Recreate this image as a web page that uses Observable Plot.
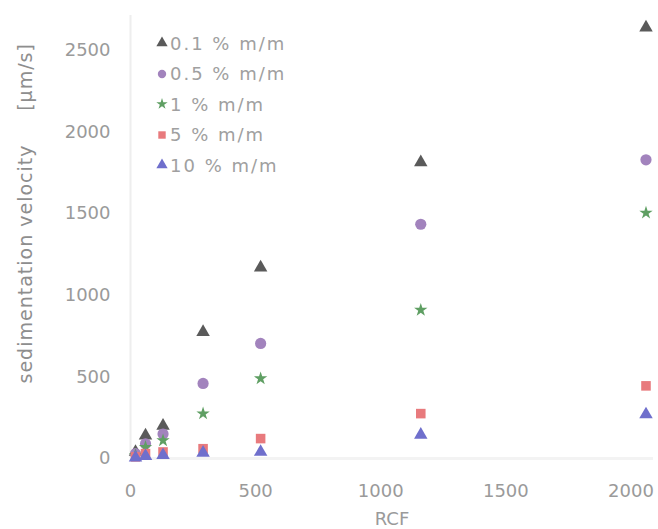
<!DOCTYPE html>
<html>
<head>
<meta charset="utf-8">
<script src="https://cdn.jsdelivr.net/npm/d3@7"></script>
<script src="https://cdn.jsdelivr.net/npm/@observablehq/plot@0.6"></script>
<style>
  body { margin: 0; background: #fff; }
  #wrap { position: relative; width: 658px; height: 529px; font-family: "DejaVu Sans", sans-serif; }
  #ylab { position: absolute; left: 25px; top: 0; width: 0; height: 0; }
  #ylab span { position: absolute; white-space: nowrap; transform: translate(-50%, -50%) rotate(-90deg); font-size: 19px; letter-spacing: 1px; color: #8e8e8e; }
  #legend { position: absolute; left: 155px; top: 28px; }
  .li { height: 30.5px; display: flex; align-items: center; font-size: 18px; letter-spacing: 2px; color: #a0a0a0; white-space: nowrap; }
  .li svg { margin-right: 1px; }
</style>
</head>
<body>
<div id="wrap">
  <div id="chart"></div>
  <div id="ylab"><span style="top:264px">sedimentation velocity</span><span style="top:77px">[µm/s]</span></div>
  <div id="legend"></div>
</div>
<script>
const rcf = [20, 60, 130, 290, 520, 1160, 2060];
const series = ["0.1 % m/m", "0.5 % m/m", "1 % m/m", "5 % m/m", "10 % m/m"];
const v01 = [40, 140, 200, 775, 1170, 1815, 2640];
const v05 = [30, 90, 150, 460, 705, 1435, 1830];
const v1 = [20, 70, 110, 275, 490, 910, 1505];
const v5 = [10, 30, 40, 60, 122, 275, 445];
const v10 = [5, 15, 20, 35, 40, 145, 270];
const xTicks = [0, 500, 1000, 1500, 2000];
const yTicks = [0, 500, 1000, 1500, 2000, 2500];

const colors = ["#5a5a5a", "#a283bd", "#5f9f63", "#e87a7d", "#6f6fcc"];
const symbols = ["triangle", "circle", "star", "square", "triangle"];
const radii = [5, 5.6, 4.2, 5.4, 5];
const values = [v01, v05, v1, v5, v10];

const data = [];
series.forEach((s, i) => rcf.forEach((x, j) => data.push({series: s, x, y: values[i][j], k: i})));

const chart = Plot.plot({
  width: 658,
  height: 529,
  marginLeft: 130,
  marginRight: 5,
  marginTop: 15,
  marginBottom: 71,
  style: {fontFamily: "'DejaVu Sans', sans-serif", fontSize: "18px", color: "#9a9a9a", background: "#fff"},
  x: {domain: [0, 2090], ticks: xTicks, tickFormat: "d", tickSize: 0, tickPadding: 26, label: "RCF", labelAnchor: "center", labelOffset: 66, labelArrow: "none"},
  y: {domain: [0, 2714], ticks: yTicks, tickFormat: "d", tickSize: 0, tickPadding: 20, label: null},
  marks: [
    Plot.ruleX([0], {stroke: "#eeeeee", strokeWidth: 2}),
    Plot.ruleY([0], {stroke: "#f3f3f3", strokeWidth: 3}),
    ...series.map((s, i) => Plot.dot(data.filter(d => d.k === i), {
      x: "x", y: "y", symbol: () => symbols[i], fill: colors[i], stroke: "none", r: radii[i]
    }))
  ],
  symbol: {type: "identity"}
});
document.getElementById("chart").appendChild(chart);

// legend
const lg = document.getElementById("legend");
const types = {triangle: d3.symbolTriangle, circle: d3.symbolCircle, star: d3.symbolStar, square: d3.symbolSquare};
series.forEach((s, i) => {
  const row = document.createElement("div");
  row.className = "li";
  const sym = d3.symbol().type(types[symbols[i]]).size(symbols[i] === "star" ? 40 : 55)();
  row.innerHTML = `<svg width="14" height="14" viewBox="-7 -7 14 14"><path d="${sym}" fill="${colors[i]}"/></svg><span>${s}</span>`;
  lg.appendChild(row);
});
</script>
</body>
</html>
